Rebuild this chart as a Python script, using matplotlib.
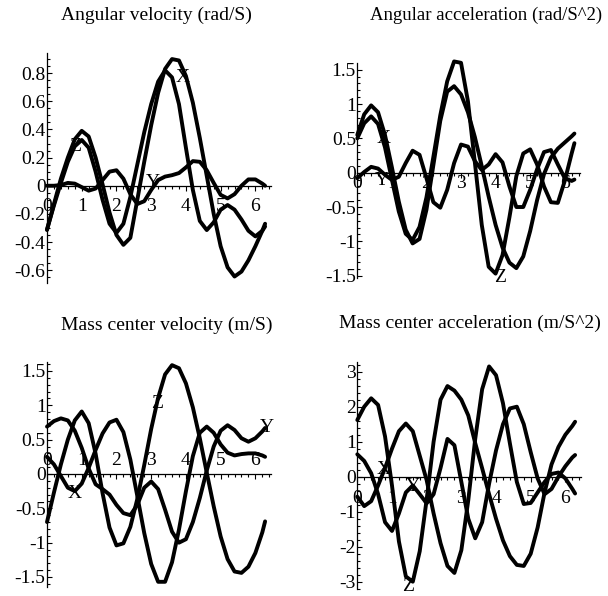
import matplotlib
matplotlib.use("Agg")
import matplotlib.pyplot as plt
from matplotlib.ticker import MultipleLocator, FuncFormatter

plt.rcParams['font.family'] = ['Liberation Serif', 'DejaVu Serif']
plt.rcParams['axes.unicode_minus'] = False

# crank angle samples (0 .. 2*pi)
t = [round(0.2 * i, 1) for i in range(32)] + [6.28]

# angular velocity (rad/S)
ang_vel_x = [-0.315, -0.13, 0.05, 0.2, 0.33, 0.39, 0.35, 0.2, 0.01, -0.19, -0.35,
             -0.42, -0.37, -0.1, 0.17, 0.43, 0.66, 0.83, 0.9, 0.89, 0.78, 0.59,
             0.34, 0.07, -0.2, -0.43, -0.58, -0.645, -0.61, -0.53, -0.43, -0.32, -0.27]
ang_vel_y = [0.0, 0.0, 0.005, 0.02, 0.015, -0.01, -0.035, -0.02, 0.04, 0.1, 0.11,
             0.05, -0.06, -0.13, -0.11, -0.03, 0.04, 0.065, 0.075, 0.09, 0.13, 0.175,
             0.17, 0.11, 0.02, -0.065, -0.09, -0.06, 0.0, 0.045, 0.045, 0.015, 0.0]
ang_vel_z = [-0.31, -0.14, 0.02, 0.17, 0.28, 0.325, 0.27, 0.1, -0.1, -0.27, -0.335,
             -0.27, -0.08, 0.15, 0.38, 0.58, 0.74, 0.82, 0.77, 0.58, 0.27, -0.03,
             -0.25, -0.315, -0.26, -0.17, -0.137, -0.17, -0.24, -0.32, -0.36, -0.32, -0.29]

# angular acceleration (rad/S^2)
ang_acc_x = [0.55, 0.85, 0.98, 0.88, 0.55, 0.08, -0.42, -0.83, -1.03, -0.965, -0.54,
             0.11, 0.755, 1.18, 1.26, 1.14, 0.88, 0.52, 0.095, -0.35, -0.76, -1.09,
             -1.31, -1.39, -1.22, -0.85, -0.4, -0.02, 0.22, 0.35, 0.44, 0.53, 0.57]
ang_acc_y = [-0.08, 0.01, 0.085, 0.06, -0.03, -0.105, -0.06, 0.14, 0.32, 0.26, -0.08,
             -0.43, -0.51, -0.25, 0.14, 0.41, 0.38, 0.17, 0.04, 0.12, 0.27, 0.15,
             -0.2, -0.5, -0.5, -0.25, 0.05, 0.3, 0.33, 0.12, -0.08, -0.12, -0.1]
ang_acc_z = [0.5, 0.72, 0.82, 0.71, 0.37, -0.1, -0.565, -0.89, -0.98, -0.79, -0.36,
             0.23, 0.835, 1.33, 1.62, 1.6, 1.04, 0.15, -0.76, -1.37, -1.47, -1.2,
             -0.65, -0.05, 0.28, 0.34, 0.12, -0.2, -0.43, -0.44, -0.12, 0.28, 0.43]

# mass center velocity (m/S)
cm_vel_x = [0.25, 0.14, -0.03, -0.2, -0.25, -0.14, 0.09, 0.35, 0.59, 0.75, 0.79,
            0.61, 0.21, -0.32, -0.86, -1.31, -1.57, -1.57, -1.286, -0.81, -0.253, 0.26,
            0.6, 0.69, 0.6, 0.43, 0.31, 0.27, 0.29, 0.3, 0.3, 0.27, 0.25]
cm_vel_y = [0.69, 0.77, 0.81, 0.78, 0.63, 0.38, 0.08, -0.15, -0.22, -0.3, -0.45,
            -0.57, -0.6, -0.45, -0.2, -0.11, -0.22, -0.52, -0.84, -1.0, -0.95, -0.7,
            -0.35, 0.05, 0.4, 0.63, 0.71, 0.64, 0.52, 0.47, 0.52, 0.62, 0.67]
cm_vel_z = [-0.7, -0.27, 0.14, 0.5, 0.78, 0.91, 0.74, 0.295, -0.28, -0.78, -1.04,
            -1.01, -0.77, -0.365, 0.13, 0.655, 1.11, 1.45, 1.585, 1.54, 1.32, 0.97,
            0.52, 0.02, -0.47, -0.91, -1.24, -1.42, -1.44, -1.35, -1.15, -0.85, -0.69]

# mass center acceleration (m/S^2)
cm_acc_x = [-0.57, -0.84, -0.7, -0.25, 0.25, 0.8, 1.3, 1.52, 1.3, 0.6, -0.1,
            -1.05, -1.9, -2.55, -2.75, -2.1, -0.67, 1.08, 2.5, 3.15, 2.9, 2.1,
            0.95, -0.15, -0.78, -0.75, -0.45, -0.15, 0.08, 0.12, -0.05, -0.35, -0.48]
cm_acc_y = [0.64, 0.45, 0.1, -0.5, -1.3, -1.55, -1.05, -0.45, -0.25, -0.5, -0.76,
            -0.5, 0.25, 1.08, 0.9, -0.15, -1.2, -1.76, -1.3, -0.2, 0.75, 1.5,
            1.95, 2.0, 1.5, 0.7, -0.05, -0.5, -0.35, 0.0, 0.3, 0.55, 0.62]
cm_acc_z = [1.62, 2.0, 2.24, 2.05, 1.15, -0.25, -1.85, -2.85, -3.0, -2.13, -0.65,
            1.0, 2.2, 2.59, 2.46, 2.2, 1.75, 0.96, 0.24, -0.5, -1.2, -1.82,
            -2.27, -2.52, -2.55, -2.2, -1.45, -0.45, 0.35, 0.85, 1.2, 1.45, 1.57]

titles = ["Angular velocity (rad/S)", "Angular acceleration (rad/S^2)",
          "Mass center velocity (m/S)", "Mass center acceleration (m/S^2)"]

# where the X, Y, Z names sit in each panel
labels_tl = [(3.9, 0.77), (3.05, 0.02), (0.8, 0.28)]
labels_tr = [(0.75, 0.5), (0.72, -0.12), (4.13, -1.53)]
labels_bl = [(0.81, -0.28), (6.34, 0.67), (3.17, 1.03)]
labels_br = [(0.75, 0.2), (1.6, -0.28), (1.47, -3.15)]

fig = plt.figure(figsize=(6.08, 5.96), dpi=100)


def make_axes(left, right, top, bottom):
    return fig.add_axes([left / 608, 1 - bottom / 596, (right - left) / 608, (bottom - top) / 596])


panels = [
    # pixel box, ylim, y major, y minor, x label pad, curves, names, title pos, title size
    ((47, 271, 53.3, 282.7), (-0.689, 0.941), 0.2, 0.05, 5,
     [ang_vel_x, ang_vel_y, ang_vel_z], labels_tl, (156, 15), 14),
    ((357.3, 580.3, 63.3, 278.3), (-1.538, 1.593), 0.5, 0.1, -1.5,
     [ang_acc_x, ang_acc_y, ang_acc_z], labels_tr, (486, 15), 13.5),
    ((47, 271, 361.7, 587.3), (-1.65, 1.635), 0.5, 0.1, -19,
     [cm_vel_x, cm_vel_y, cm_vel_z], labels_bl, (167, 325), 14),
    ((357.3, 581, 361.7, 589.3), (-3.217, 3.286), 1.0, 0.2, 6,
     [cm_acc_x, cm_acc_y, cm_acc_z], labels_br, (470, 323), 14),
]

fmt = FuncFormatter(lambda v, p: "%g" % round(v, 3))

for (box, ylim, major, minor, xpad, curves, labs, tpos, tsize), title in zip(panels, titles):
    ax = make_axes(*box)
    ax.set_xlim(0, 6.45)
    ax.set_ylim(*ylim)
    for s in ['top', 'right']:
        ax.spines[s].set_visible(False)
    ax.spines['bottom'].set_position(('data', 0))
    ax.spines['left'].set_position(('data', 0))
    ax.spines['left'].set_linewidth(0.9)
    ax.spines['bottom'].set_linewidth(0.9)
    ax.patch.set_alpha(0)

    ax.xaxis.set_major_locator(MultipleLocator(1))
    ax.xaxis.set_minor_locator(MultipleLocator(0.2))
    ax.yaxis.set_major_locator(MultipleLocator(major))
    ax.yaxis.set_minor_locator(MultipleLocator(minor))
    ax.xaxis.set_major_formatter(fmt)
    ax.yaxis.set_major_formatter(fmt)
    ax.tick_params(axis='x', which='both', direction='out', labelsize=14, pad=xpad)
    ax.tick_params(axis='y', which='both', direction='in', labelsize=14, pad=1)
    ax.tick_params(which='major', length=3.5, width=0.8)
    ax.tick_params(which='minor', length=2.5, width=0.8)

    for y in curves:
        ax.plot(t, y, color='black', lw=2.8, solid_capstyle='round',
                solid_joinstyle='round', clip_on=False, zorder=3)

    for name, (lx, ly) in zip(["X", "Y", "Z"], labs):
        ax.text(lx, ly, name, fontsize=14, ha='center', va='center', zorder=4)

    fig.text(tpos[0] / 608, 1 - tpos[1] / 596, title, fontsize=tsize,
             ha='center', va='center')

fig.savefig("out.png", dpi=100)
